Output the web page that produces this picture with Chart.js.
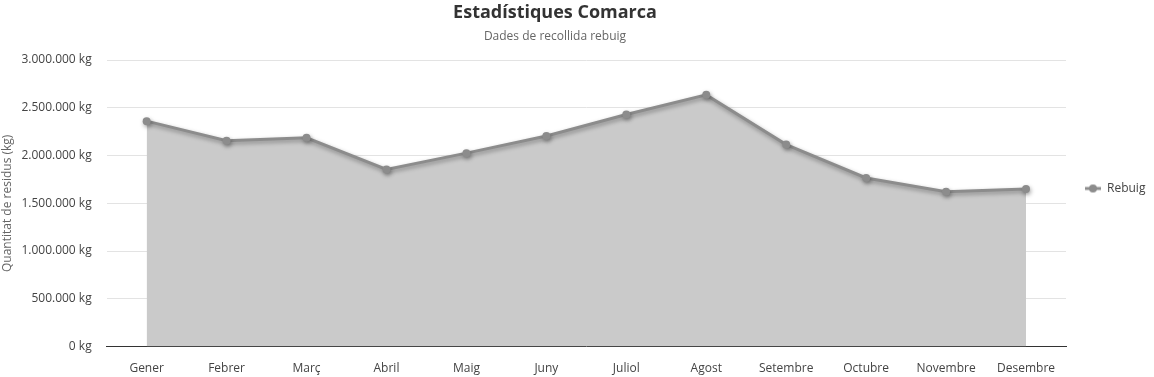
<!DOCTYPE html>
<html>
<head>
<meta charset="utf-8">
<script src="https://cdn.jsdelivr.net/npm/chart.js@4"></script>
<style>
  html, body { margin: 0; padding: 0; background: #fff; }
  #wrap { width: 1154px; height: 377px; position: relative; }
</style>
</head>
<body>
<div id="wrap"><canvas id="wasteChart"></canvas></div>
<script>
const months = ['Gener', 'Febrer', 'Març', 'Abril', 'Maig', 'Juny', 'Juliol', 'Agost', 'Setembre', 'Octubre', 'Novembre', 'Desembre'];
const rebuig = [2360000, 2155000, 2185000, 1855000, 2025000, 2205000, 2430000, 2635000, 2115000, 1765000, 1620000, 1650000];
const yMax = 3000000;
const yStep = 500000;

const lineGrey = '#8c8c8c';
const fontFamily = '"Open Sans", "Noto Sans", sans-serif';

function formatKg(value) {
    return String(value).replace(/\B(?=(\d{3})+(?!\d))/g, '.') + ' kg';
}

// small line + dot marker for the legend
function legendMarker() {
    const c = document.createElement('canvas');
    c.width = 16;
    c.height = 10;
    const g = c.getContext('2d');
    g.strokeStyle = lineGrey;
    g.lineWidth = 3;
    g.beginPath();
    g.moveTo(0, 5);
    g.lineTo(16, 5);
    g.stroke();
    g.fillStyle = lineGrey;
    g.beginPath();
    g.arc(8, 5, 4, 0, Math.PI * 2);
    g.fill();
    return c;
}

const lineShadow = {
    id: 'lineShadow',
    beforeDatasetDraw(chart) {
        const ctx = chart.ctx;
        ctx.save();
        ctx.shadowColor = 'rgba(0, 0, 0, 0.35)';
        ctx.shadowBlur = 4;
        ctx.shadowOffsetX = 1;
        ctx.shadowOffsetY = 2;
    },
    afterDatasetDraw(chart) {
        chart.ctx.restore();
    }
};

// title block in the original is centred a bit left of the canvas middle
const titleShift = {
    id: 'titleShift',
    afterLayout(chart) {
        chart.boxes.forEach(box => {
            if (box.options && box.options.position === 'top' && box.options.text) {
                box.left = 0;
                box.right = 1110;
                box.width = 1110;
            }
        });
    }
};

const ctx = document.getElementById('wasteChart').getContext('2d');
const marker = legendMarker();

new Chart(ctx, {
    type: 'line',
    data: {
        labels: months,
        datasets: [{
            label: 'Rebuig',
            data: rebuig,
            borderColor: lineGrey,
            backgroundColor: '#cacaca',
            borderWidth: 3,
            fill: 'origin',
            tension: 0,
            pointRadius: 4,
            pointBackgroundColor: lineGrey,
            pointBorderColor: lineGrey,
            pointBorderWidth: 0
        }]
    },
    options: {
        responsive: true,
        maintainAspectRatio: false,
        animation: false,
        plugins: {
            title: {
                display: true,
                text: 'Estadístiques Comarca',
                color: '#333',
                font: { family: fontFamily, size: 18, weight: 'bold' },
                padding: { top: 2, bottom: 2 }
            },
            subtitle: {
                display: true,
                text: 'Dades de recollida rebuig',
                color: '#666',
                font: { family: fontFamily, size: 12 },
                padding: { top: 4, bottom: 16 }
            },
            legend: {
                position: 'right',
                maxWidth: 88,
                labels: {
                    usePointStyle: true,
                    pointStyleWidth: 16,
                    color: '#444',
                    font: { family: fontFamily, size: 12 },
                    padding: 19,
                    generateLabels(chart) {
                        const items = Chart.defaults.plugins.legend.labels.generateLabels(chart);
                        items.forEach(item => { item.pointStyle = marker; });
                        return items;
                    }
                }
            },
            tooltip: { enabled: false }
        },
        scales: {
            x: {
                offset: true,
                grid: { display: false, tickLength: 14 },
                border: { display: true, color: '#333', width: 1 },
                ticks: {
                    color: '#444',
                    padding: 1,
                    font: { family: fontFamily, size: 12 }
                }
            },
            y: {
                min: 0,
                max: yMax,
                grid: { color: '#e3e3e3', drawTicks: true, tickLength: 12, tickColor: 'rgba(0,0,0,0)' },
                border: { display: false },
                ticks: {
                    stepSize: yStep,
                    color: '#444',
                    padding: 3,
                    font: { family: fontFamily, size: 12 },
                    callback: value => formatKg(value)
                },
                title: {
                    display: true,
                    text: 'Quantitat de residus (kg)',
                    color: '#666',
                    font: { family: fontFamily, size: 12 },
                    padding: { top: 0, bottom: 4 }
                }
            }
        }
    },
    plugins: [lineShadow, titleShift]
});
</script>
</body>
</html>
